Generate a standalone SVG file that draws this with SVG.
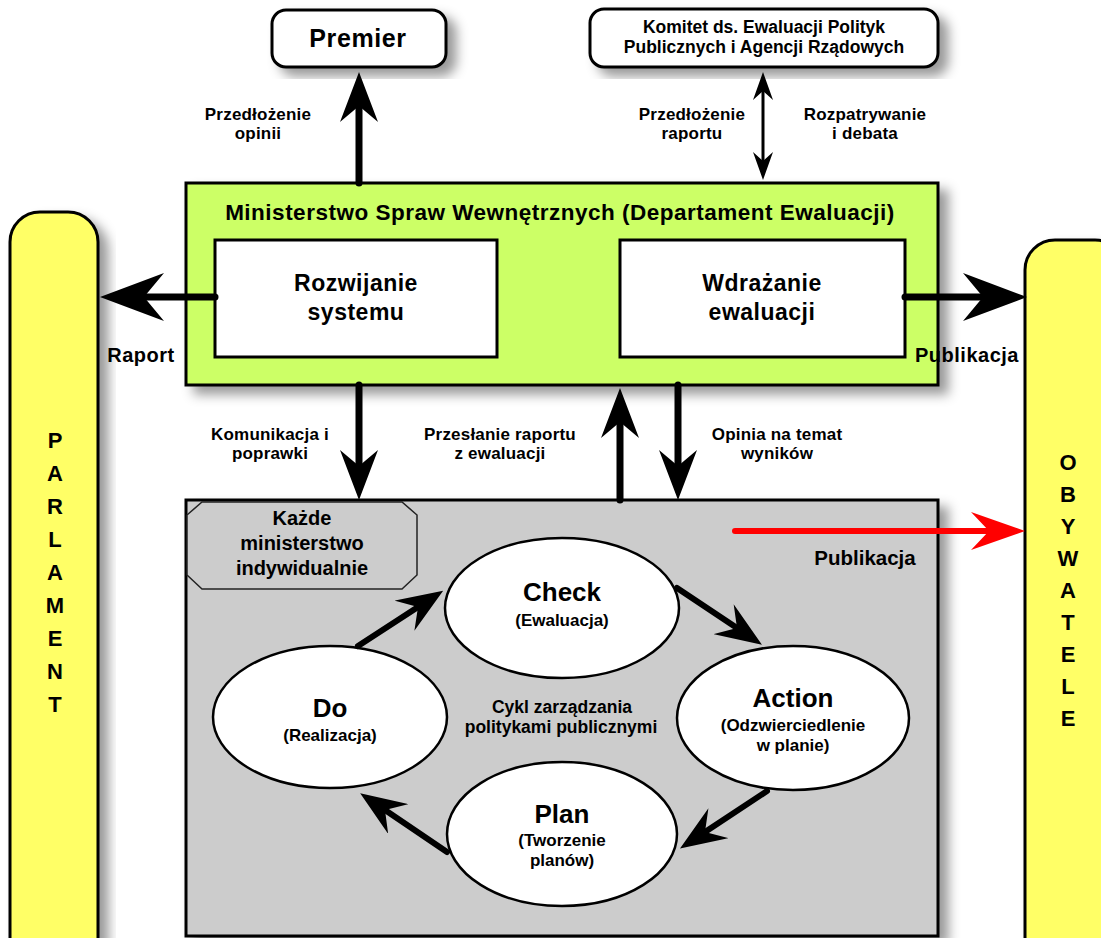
<svg xmlns="http://www.w3.org/2000/svg" width="1101" height="938" viewBox="0 0 1101 938">
<style>
text{font-family:"Liberation Sans",Arial,sans-serif;font-weight:bold;fill:#000;text-anchor:middle}
.box{stroke:#000;stroke-width:3}
.lbl{font-size:17px;letter-spacing:0.2px}
.ell{fill:#fff;stroke:#000;stroke-width:2.5}
.title{font-size:26px}
.sub{font-size:17px}
.col{font-size:22px}
.big{font-size:23px;letter-spacing:0.5px}
.side{font-size:20px;letter-spacing:0.5px}
.sh{stroke:#000;stroke-width:7;fill:none;stroke-linecap:round}
.cy{stroke:#000;stroke-width:6;fill:none;stroke-linecap:round}
</style>
<defs>
<filter id="shadow" x="-10%" y="-10%" width="130%" height="130%">
<feDropShadow dx="9" dy="8" stdDeviation="6" flood-color="#000" flood-opacity="0.4"/>
</filter>
<marker id="mA" markerUnits="userSpaceOnUse" markerWidth="50" markerHeight="38" viewBox="0 0 50 38" refX="16" refY="19" orient="auto-start-reverse"><path d="M50,19 L0,0 L16,19 L0,38 Z" fill="#000"/></marker>
<marker id="mB" markerUnits="userSpaceOnUse" markerWidth="64" markerHeight="48" viewBox="0 0 64 48" refX="20" refY="24" orient="auto"><path d="M64,24 L0,0 L20,24 L0,48 Z" fill="#000"/></marker>
<marker id="mC" markerUnits="userSpaceOnUse" markerWidth="28" markerHeight="20" viewBox="0 0 28 20" refX="9" refY="10" orient="auto-start-reverse"><path d="M28,10 L0,0 L9,10 L0,20 Z" fill="#000"/></marker>
<marker id="mD" markerUnits="userSpaceOnUse" markerWidth="54" markerHeight="38" viewBox="0 0 54 38" refX="18" refY="19" orient="auto"><path d="M54,19 L0,0 L18,19 L0,38 Z" fill="#f00"/></marker>
<marker id="mE" markerUnits="userSpaceOnUse" markerWidth="46" markerHeight="36" viewBox="0 0 46 36" refX="16" refY="18" orient="auto"><path d="M46,18 L0,0 L16,18 L0,36 Z" fill="#000"/></marker>
</defs>
<rect width="1101" height="938" fill="#fff"/>

<g id="premier">
<rect x="272" y="10" width="174" height="57" rx="14" fill="#fff" class="box" filter="url(#shadow)"/>
<text x="358" y="47" style="font-size:25px;letter-spacing:0.6px">Premier</text>
</g>

<g id="komitet">
<rect x="590" y="9" width="348" height="58" rx="14" fill="#fff" class="box" filter="url(#shadow)"/>
<text x="764" y="33" style="font-size:17.5px">Komitet ds. Ewaluacji Polityk</text>
<text x="764" y="53" style="font-size:17.5px">Publicznych i Agencji Rządowych</text>
</g>

<g id="parlament">
<rect x="10" y="212" width="88" height="780" rx="30" fill="#ffff66" class="box" filter="url(#shadow)"/>
<text class="col" x="55" y="448">P</text>
<text class="col" x="55" y="481">A</text>
<text class="col" x="55" y="514">R</text>
<text class="col" x="55" y="547">L</text>
<text class="col" x="55" y="580">A</text>
<text class="col" x="55" y="613">M</text>
<text class="col" x="55" y="646">E</text>
<text class="col" x="55" y="679">N</text>
<text class="col" x="55" y="712">T</text>
</g>

<g id="obywatele">
<rect x="1025" y="240" width="100" height="760" rx="30" fill="#ffff66" class="box" filter="url(#shadow)"/>
<text class="col" x="1068" y="470">O</text>
<text class="col" x="1068" y="502">B</text>
<text class="col" x="1068" y="534">Y</text>
<text class="col" x="1068" y="566">W</text>
<text class="col" x="1068" y="598">A</text>
<text class="col" x="1068" y="630">T</text>
<text class="col" x="1068" y="662">E</text>
<text class="col" x="1068" y="694">L</text>
<text class="col" x="1068" y="726">E</text>
</g>

<g id="ministerstwo">
<rect x="186" y="183" width="752" height="202" fill="#ccff66" class="box" filter="url(#shadow)"/>
<text x="560" y="220" style="font-size:22.5px;letter-spacing:0.5px">Ministerstwo Spraw Wewnętrznych (Departament Ewaluacji)</text>
</g>

<g id="rozwijanie">
<rect x="215" y="240" width="282" height="117" fill="#fff" class="box"/>
<text class="big" x="356" y="291">Rozwijanie</text>
<text class="big" x="356" y="320">systemu</text>
</g>

<g id="wdrazanie">
<rect x="620" y="240" width="285" height="117" fill="#fff" class="box"/>
<text class="big" x="762" y="291">Wdrażanie</text>
<text class="big" x="762" y="320">ewaluacji</text>
</g>

<g id="cykl">
<rect x="186" y="500" width="752" height="436" fill="#cccccc" class="box" filter="url(#shadow)"/>
<text x="865" y="565" style="font-size:20.5px">Publikacja</text>
<text x="562" y="713" style="font-size:17.5px">Cykl zarządzania</text>
<text x="561" y="733" style="font-size:17.5px">politykami publicznymi</text>
</g>

<g id="kazde">
<polygon points="202,502 402,502 417,515 417,575 402,589 202,589 187,575 187,515" fill="#cccccc" stroke="#222" stroke-width="1.5"/>
<text x="302" y="525" style="font-size:20px">Każde</text>
<text x="302" y="550" style="font-size:20px">ministerstwo</text>
<text x="302" y="575" style="font-size:20px">indywidualnie</text>
</g>

<g id="check">
<ellipse cx="562" cy="608" rx="117" ry="70" class="ell"/>
<text class="title" x="562" y="601">Check</text>
<text class="sub" x="562" y="626">(Ewaluacja)</text>
</g>

<g id="action">
<ellipse cx="793" cy="718" rx="116" ry="72" class="ell"/>
<text class="title" x="793" y="707">Action</text>
<text class="sub" x="793" y="731">(Odzwierciedlenie</text>
<text class="sub" x="793" y="751">w planie)</text>
</g>

<g id="plan">
<ellipse cx="562" cy="834" rx="115" ry="72" class="ell"/>
<text class="title" x="562" y="823">Plan</text>
<text class="sub" x="562" y="846">(Tworzenie</text>
<text class="sub" x="562" y="866">planów)</text>
</g>

<g id="do">
<ellipse cx="330" cy="717" rx="117" ry="71" class="ell"/>
<text class="title" x="330" y="717">Do</text>
<text class="sub" x="330" y="741">(Realizacja)</text>
</g>

<g id="connectors">
<line class="sh" x1="359" y1="183" x2="359" y2="106" marker-end="url(#mA)"/>
<line x1="763" y1="91" x2="763" y2="161" stroke="#000" stroke-width="3" marker-start="url(#mC)" marker-end="url(#mC)"/>
<line class="sh" x1="215" y1="297" x2="144" y2="297" marker-end="url(#mB)"/>
<line class="sh" x1="905" y1="297" x2="983" y2="297" marker-end="url(#mB)"/>
<line class="sh" x1="359" y1="385" x2="359" y2="466" marker-end="url(#mA)"/>
<line class="sh" x1="620" y1="500" x2="620" y2="422" marker-end="url(#mA)"/>
<line class="sh" x1="678" y1="385" x2="678" y2="466" marker-end="url(#mA)"/>
<line x1="735" y1="531" x2="989" y2="531" stroke="#f00" stroke-width="6" stroke-linecap="round" marker-end="url(#mD)"/>
<line class="cy" x1="358" y1="646" x2="418" y2="607" marker-end="url(#mE)"/>
<line class="cy" x1="677" y1="588" x2="737" y2="628" marker-end="url(#mE)"/>
<line class="cy" x1="767" y1="791" x2="705" y2="832" marker-end="url(#mE)"/>
<line class="cy" x1="447" y1="852" x2="385" y2="810" marker-end="url(#mE)"/>
</g>

<g id="labels">
<text class="lbl" x="258" y="120">Przedłożenie</text>
<text class="lbl" x="258" y="139">opinii</text>
<text class="lbl" x="692" y="120">Przedłożenie</text>
<text class="lbl" x="692" y="139">raportu</text>
<text class="lbl" x="865" y="120">Rozpatrywanie</text>
<text class="lbl" x="865" y="139">i debata</text>
<text class="side" x="141" y="362">Raport</text>
<text class="side" x="967" y="362">Publikacja</text>
<text class="lbl" x="270" y="440">Komunikacja i</text>
<text class="lbl" x="270" y="459">poprawki</text>
<text class="lbl" x="500" y="440">Przesłanie raportu</text>
<text class="lbl" x="500" y="459">z ewaluacji</text>
<text class="lbl" x="777" y="440">Opinia na temat</text>
<text class="lbl" x="777" y="459">wyników</text>
</g>
</svg>
